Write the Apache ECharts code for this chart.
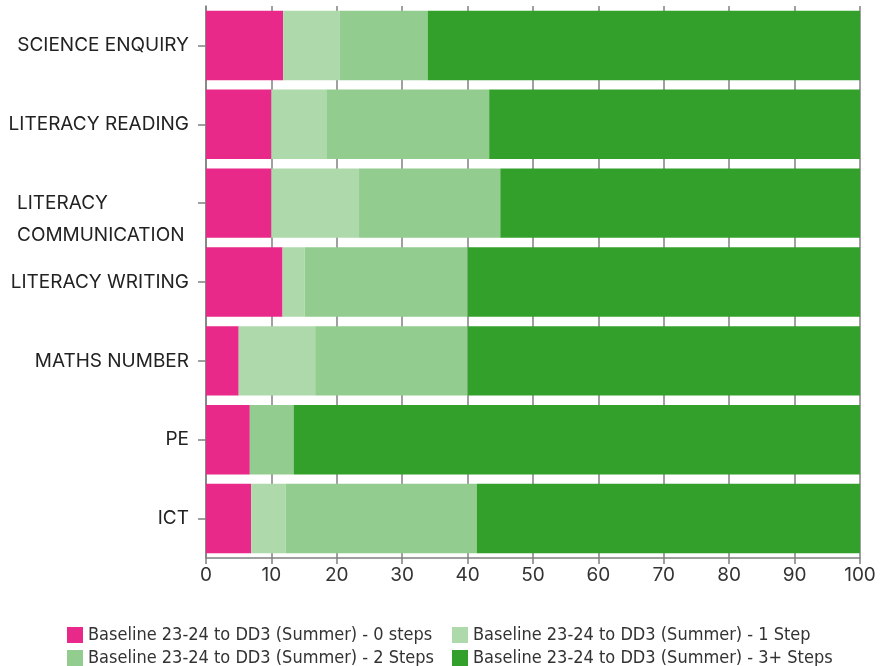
<!DOCTYPE html>
<html>
<head>
<meta charset="utf-8">
<script src="https://cdn.jsdelivr.net/npm/echarts@6/dist/echarts.min.js"></script>
<style>
  html, body { margin: 0; padding: 0; background: #fff; }
  #chart { width: 880px; height: 666px; }
</style>
</head>
<body>
<div id="chart"></div>
<script>
// subjects, top to bottom
var subjects = [
  'SCIENCE ENQUIRY',
  'LITERACY READING',
  'LITERACY\nCOMMUNICATION',
  'LITERACY WRITING',
  'MATHS NUMBER',
  'PE',
  'ICT'
];

var seriesNames = [
  'Baseline 23-24 to DD3 (Summer) - 0 steps',
  'Baseline 23-24 to DD3 (Summer) - 1 Step',
  'Baseline 23-24 to DD3 (Summer) - 2 Steps',
  'Baseline 23-24 to DD3 (Summer) - 3+ Steps'
];

// percentages
var steps0 = [11.8, 10.0, 10.0, 11.7, 5.0, 6.7, 6.9];
var steps1 = [8.6, 8.4, 13.4, 3.4, 11.7, 0, 5.3];
var steps2 = [13.5, 24.9, 21.6, 24.9, 23.3, 6.7, 29.2];
var steps3 = [66.1, 56.7, 55.0, 60.0, 60.0, 86.6, 58.6];

var colors = ['#e8298a', '#aed9ab', '#92cc8e', '#33a02c'];

var chart = echarts.init(document.getElementById('chart'));

function makeSeries(name, data, i) {
  return {
    name: name,
    type: 'bar',
    stack: 'total',
    barCategoryGap: '12%',
    itemStyle: { color: colors[i] },
    emphasis: { disabled: true },
    data: data
  };
}

// legend laid out as two columns
function makeLegend(left, names) {
  return {
    orient: 'vertical',
    left: left,
    top: 626,
    height: 50,
    padding: 0,
    itemWidth: 16,
    itemHeight: 16,
    itemGap: 5,
    icon: 'rect',
    textStyle: {
      fontFamily: 'DejaVu Sans Condensed',
      fontSize: 18,
      lineHeight: 16,
      color: '#333'
    },
    data: names
  };
}

var option = {
  animation: false,
  textStyle: { fontFamily: 'Inter' },
  grid: {
    left: 206,
    right: 20,
    top: 6,
    bottom: 108
  },
  legend: [
    makeLegend(67, [seriesNames[0], seriesNames[2]]),
    makeLegend(452, [seriesNames[1], seriesNames[3]])
  ],
  xAxis: {
    type: 'value',
    min: 0,
    max: 100,
    interval: 10,
    axisLine: { show: true, lineStyle: { color: '#808080', width: 1.5 } },
    axisTick: { show: true, length: 6, lineStyle: { color: '#808080', width: 1.5 } },
    splitLine: { show: true, lineStyle: { color: '#808080', width: 1.5 } },
    axisLabel: {
      fontSize: 19,
      color: '#333',
      margin: 8
    }
  },
  yAxis: {
    type: 'category',
    inverse: true,
    data: subjects,
    axisLine: { show: true, lineStyle: { color: '#808080', width: 1.5 } },
    axisTick: { show: true, length: 8, alignWithLabel: true, lineStyle: { color: '#808080', width: 1.5 } },
    axisLabel: {
      fontSize: 19,
      color: '#222',
      margin: 17,
      formatter: function (v) {
        if (v.indexOf('\n') < 0) return v;
        var parts = v.split('\n');
        return '{w| }\n{w|' + parts[0] + '}\n{w|' + parts[1] + '}';
      },
      rich: {
        w: { width: 172, align: 'left', lineHeight: 32, fontSize: 19, color: '#222', letterSpacing: 0.5 }
      }
    }
  },
  series: [
    makeSeries(seriesNames[0], steps0, 0),
    makeSeries(seriesNames[1], steps1, 1),
    makeSeries(seriesNames[2], steps2, 2),
    makeSeries(seriesNames[3], steps3, 3)
  ]
};

chart.setOption(option);
</script>
</body>
</html>
